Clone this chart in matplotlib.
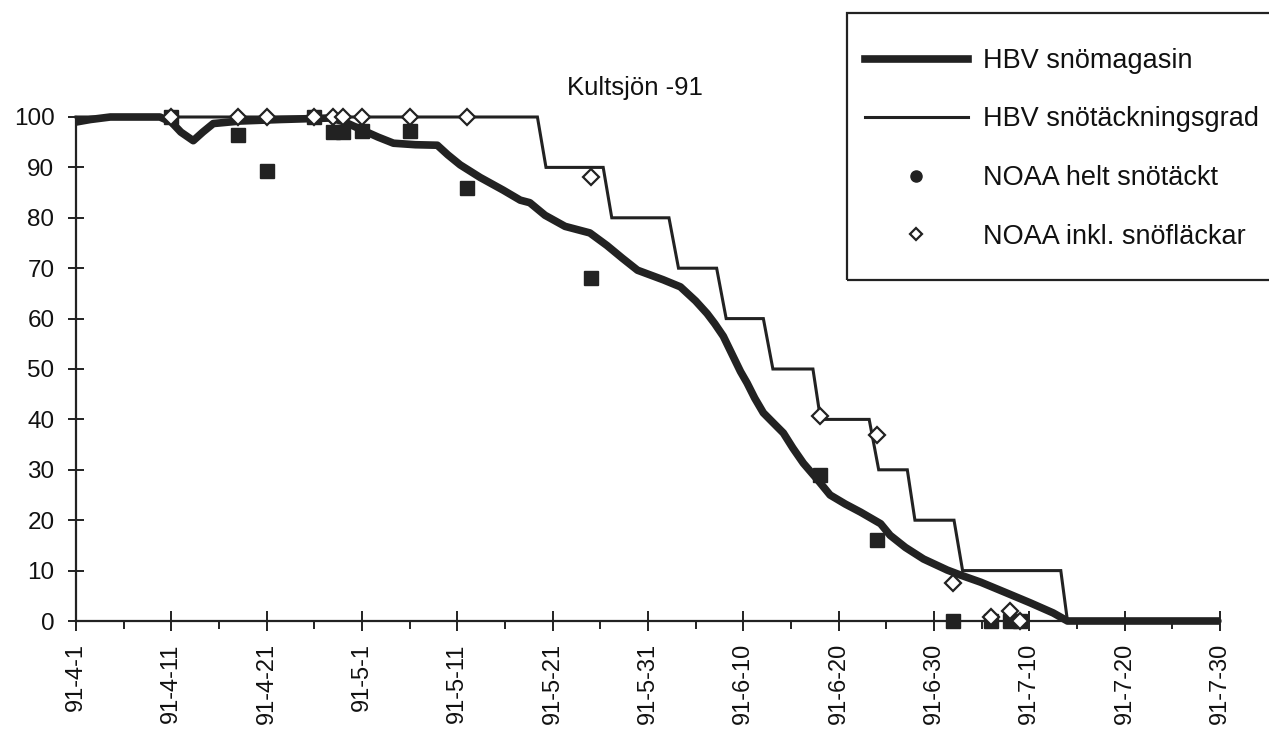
import matplotlib
matplotlib.use("Agg")
import matplotlib.pyplot as plt
from matplotlib.lines import Line2D
from matplotlib.patches import Rectangle
from matplotlib.ticker import MultipleLocator

plt.rcParams['font.family'] = ['Liberation Sans', 'DejaVu Sans']

# ---- data (x = days after 1991-04-01) ----
tick_days = [0, 10, 20, 30, 40, 50, 60, 70, 80, 90, 100, 110, 120]
tick_labels = ["91-4-1", "91-4-11", "91-4-21", "91-5-1", "91-5-11", "91-5-21",
               "91-5-31", "91-6-10", "91-6-20", "91-6-30", "91-7-10", "91-7-20",
               "91-7-30"]

# HBV snömagasin (thick curve)
mag_days = [0, 1.5, 3.6, 8.8, 10, 11, 12.3, 13.3, 14.4, 17.2, 21.4, 26.7, 28.2,
            29.8, 31.7, 33.3, 35.6, 37.9, 39, 40.3, 42.4, 44.8, 46.6, 47.6, 49.2,
            51.3, 53.9, 55.7, 57.3, 58.9, 61.6, 63.4, 65, 66.2, 67.0, 67.9, 68.8,
            69.7, 70.4, 71.2, 72.1, 73.2, 74.2, 75.2, 76.3, 77.8, 79.1, 80.7,
            82.3, 84.4, 85.4, 87.0, 88.9, 91.4, 92.8, 94.9, 97.7, 100.1, 102.5,
            104, 120]
mag_vals = [99, 99.5, 100, 100, 99, 97, 95.3, 97, 98.7, 99.2, 99.5, 99.8, 99,
            97.6, 96, 94.8, 94.5, 94.4, 92.5, 90.5, 88, 85.5, 83.5, 83, 80.5,
            78.3, 77, 74.5, 72, 69.6, 67.7, 66.3, 63.5, 61, 59.0, 56.5, 53.0,
            49.5, 47.2, 44.2, 41.3, 39.2, 37.3, 34.3, 31.3, 28, 25, 23.2,
            21.6, 19.3, 17, 14.6, 12.3, 10.1, 9.1, 7.7, 5.5, 3.6, 1.6,
            0, 0]

# HBV snötäckningsgrad (thin step line)
cov_days = [0, 48.4, 49.3, 55.3, 56.2, 62.2, 63.2, 67.2, 68.2, 72.1, 73.1, 77.3,
            78.1, 83.2, 84.2, 87.2, 88.0, 92.1, 93.0, 103.3, 104.0, 120]
cov_vals = [100, 100, 90, 90, 80, 80, 70, 70, 60, 60, 50, 50,
            40, 40, 30, 30, 20, 20, 10, 10, 0, 0]

# NOAA helt snötäckt (filled squares)
full_days = [10, 17, 20, 25, 27, 28, 30, 35, 41, 54, 78, 84, 92, 96, 98, 99]
full_vals = [100, 96.4, 89.3, 100, 97, 97, 97.2, 97.2, 86, 68, 29, 16, 0, 0, 0, 0]

# NOAA inkl. snöfläckar (open diamonds)
patch_days = [10, 17, 20, 25, 27, 28, 30, 35, 41, 54, 78, 84, 92, 96, 98, 99]
patch_vals = [100, 100, 100, 100, 100, 100, 100, 100, 100, 88, 40.7, 36.9, 7.5, 0.8, 2, 0]

labels = ["HBV snömagasin", "HBV snötäckningsgrad", "NOAA helt snötäckt",
          "NOAA inkl. snöfläckar"]
title = "Kultsjön -91"

dark = "#222222"
txt = "#111111"

fig = plt.figure(figsize=(12.69, 7.38), dpi=100)
fig.patch.set_facecolor("white")
ax = fig.add_axes([76 / 1269, 117 / 738, (1220 - 76) / 1269, (621 - 117) / 738])
ax.set_xlim(0, 120)
ax.set_ylim(0, 100)

ax.plot(cov_days, cov_vals, color=dark, lw=2.2, clip_on=False, zorder=3,
        solid_joinstyle="miter")
ax.plot(mag_days, mag_vals, color=dark, lw=5.5, clip_on=False, zorder=4,
        solid_capstyle="butt", solid_joinstyle="round")
ax.plot(full_days, full_vals, ls="none", marker="s", ms=9.5, mfc=dark, mec=dark,
        clip_on=False, zorder=5)
ax.plot(patch_days, patch_vals, ls="none", marker="D", ms=8.5, mfc="white",
        mec=dark, mew=1.6, clip_on=False, zorder=6)

for s in ["top", "right"]:
    ax.spines[s].set_visible(False)
for s in ["left", "bottom"]:
    ax.spines[s].set_linewidth(1.6)
    ax.spines[s].set_color(dark)

ax.set_xticks(tick_days)
ax.set_xticklabels(tick_labels, rotation=90, fontsize=17)
ax.xaxis.set_minor_locator(MultipleLocator(5))
ax.set_yticks(range(0, 101, 10))
ax.tick_params(axis="x", which="major", direction="inout", length=14, width=1.4,
               color=dark, pad=9)
ax.tick_params(axis="x", which="minor", direction="out", length=6, width=1.4,
               color=dark)
ax.tick_params(axis="y", which="major", direction="inout", length=11, width=1.4,
               color=dark, pad=10, labelsize=17.5)
for t in ax.get_xticklabels() + ax.get_yticklabels():
    t.set_color(txt)

fig.text(635 / 1269, 1 - 88 / 738, title, ha="center", va="center",
         fontsize=18.5, color=txt)

# legend box
fig.patches.append(Rectangle((847 / 1269, 1 - 280 / 738), 0.5, (280 - 13) / 738,
                             transform=fig.transFigure, fill=False,
                             edgecolor=dark, lw=1.6))
handles = [
    Line2D([], [], color=dark, lw=5.5),
    Line2D([], [], color=dark, lw=2.2),
    Line2D([], [], ls="none", marker="o", ms=8, mfc=dark, mec=dark),
    Line2D([], [], ls="none", marker="D", ms=6.5, mfc="white", mec=dark, mew=1.6),
]
leg = fig.legend(handles, labels, loc="upper left",
                 bbox_to_anchor=(865 / 1269, 1 - 48 / 738),
                 frameon=False, fontsize=19.5, handlelength=3.8,
                 handletextpad=0.55, labelspacing=1.2, borderpad=0,
                 borderaxespad=0)
for t in leg.get_texts():
    t.set_color(txt)

fig.savefig("out.png", dpi=100, facecolor="white")
